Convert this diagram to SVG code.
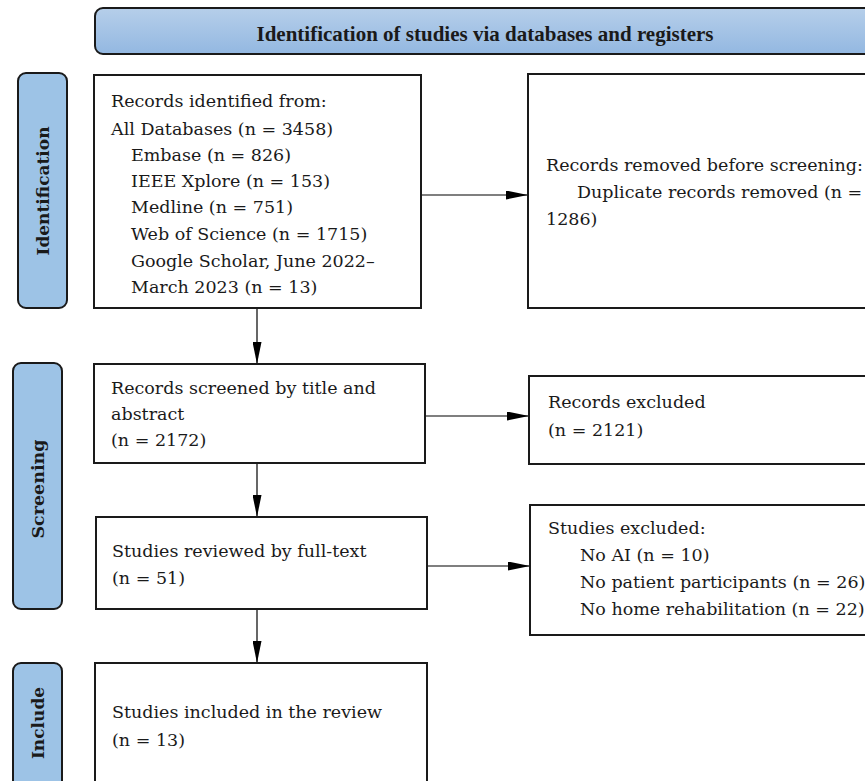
<svg xmlns="http://www.w3.org/2000/svg" width="865" height="781" viewBox="0 0 865 781">
<style>
.box{fill:#fff;stroke:#1a1a1a;stroke-width:2}
.lab{fill:#9dc3e6;stroke:#1a1a1a;stroke-width:2}
.t{font-family:"DejaVu Serif","Liberation Serif",serif;font-size:17.5px;fill:#1a1a1a}
.lt{font-family:"DejaVu Serif","Liberation Serif",serif;font-size:17px;font-weight:bold;fill:#1a1a1a;text-anchor:middle;dominant-baseline:central}
.bt{font-family:"Liberation Serif",serif;font-size:21px;font-weight:bold;fill:#1a1a1a;text-anchor:middle}
.c{stroke:#000;stroke-width:1.2;fill:none;marker-end:url(#ah)}
</style>
<defs>
<linearGradient id="bg" x1="0" y1="0" x2="0" y2="1">
<stop offset="0" stop-color="#b6cfea"/>
<stop offset="1" stop-color="#93b8e1"/>
</linearGradient>
<marker id="ah" markerUnits="userSpaceOnUse" markerWidth="22" markerHeight="9" refX="22" refY="4.5" orient="auto">
<path d="M0,0 L22,4.5 L0,9 z" fill="#000"/>
</marker>
</defs>
<rect width="865" height="781" fill="#fff"/>
<g id="banner">
<rect x="95" y="8" width="790" height="46" rx="8" fill="url(#bg)" stroke="#1a1a1a" stroke-width="2"/>
<text class="bt" x="485" y="41">Identification of studies via databases and registers</text>
</g>
<g id="label-identification">
<rect class="lab" x="18" y="73" width="49" height="235" rx="8"/>
<text class="lt" transform="translate(42.5,191) rotate(-90)">Identification</text>
</g>
<g id="label-screening">
<rect class="lab" x="13" y="363" width="49" height="246" rx="8"/>
<text class="lt" style="font-size:17.5px" transform="translate(37.5,489) rotate(-90)">Screening</text>
</g>
<g id="label-include">
<rect class="lab" x="13" y="663" width="49" height="130" rx="8"/>
<text class="lt" transform="translate(37.5,723) rotate(-90)">Include</text>
</g>
<g id="connectors">
<line class="c" x1="421" y1="195" x2="528" y2="195"/>
<line class="c" x1="257" y1="308" x2="257" y2="364"/>
<line class="c" x1="425" y1="416" x2="529" y2="416"/>
<line class="c" x1="257" y1="463" x2="257" y2="517"/>
<line class="c" x1="427" y1="566" x2="530" y2="566"/>
<line class="c" x1="257" y1="609" x2="257" y2="663"/>
</g>
<g id="records-identified">
<rect class="box" x="94" y="75" width="327" height="233"/>
<text class="t" x="111" y="107">Records identified from:</text>
<text class="t" x="111" y="135">All Databases (n = 3458)</text>
<text class="t" x="131" y="161">Embase (n = 826)</text>
<text class="t" x="131" y="187">IEEE Xplore (n = 153)</text>
<text class="t" x="131" y="213">Medline (n = 751)</text>
<text class="t" x="131" y="240">Web of Science (n = 1715)</text>
<text class="t" x="131" y="267">Google Scholar, June 2022–</text>
<text class="t" x="131" y="293">March 2023 (n = 13)</text>
</g>
<g id="records-removed">
<rect class="box" x="528" y="74" width="345" height="234"/>
<text class="t" x="546" y="171">Records removed before screening:</text>
<text class="t" x="577" y="198">Duplicate records removed (n =</text>
<text class="t" x="546" y="225">1286)</text>
</g>
<g id="records-screened">
<rect class="box" x="94" y="364" width="331" height="99"/>
<text class="t" x="111" y="394">Records screened by title and</text>
<text class="t" x="111" y="420">abstract</text>
<text class="t" x="111" y="446">(n = 2172)</text>
</g>
<g id="records-excluded">
<rect class="box" x="529" y="376" width="345" height="88"/>
<text class="t" x="548" y="408">Records excluded</text>
<text class="t" x="548" y="436">(n = 2121)</text>
</g>
<g id="studies-reviewed">
<rect class="box" x="96" y="517" width="331" height="92"/>
<text class="t" x="112" y="557">Studies reviewed by full-text</text>
<text class="t" x="112" y="584">(n = 51)</text>
</g>
<g id="studies-excluded">
<rect class="box" x="530" y="505" width="345" height="130"/>
<text class="t" x="548" y="534">Studies excluded:</text>
<text class="t" x="580" y="561">No AI (n = 10)</text>
<text class="t" x="580" y="588">No patient participants (n = 26)</text>
<text class="t" x="580" y="615">No home rehabilitation (n = 22)</text>
</g>
<g id="studies-included">
<rect class="box" x="95" y="663" width="332" height="130"/>
<text class="t" x="112" y="718">Studies included in the review</text>
<text class="t" x="112" y="746">(n = 13)</text>
</g>
</svg>
